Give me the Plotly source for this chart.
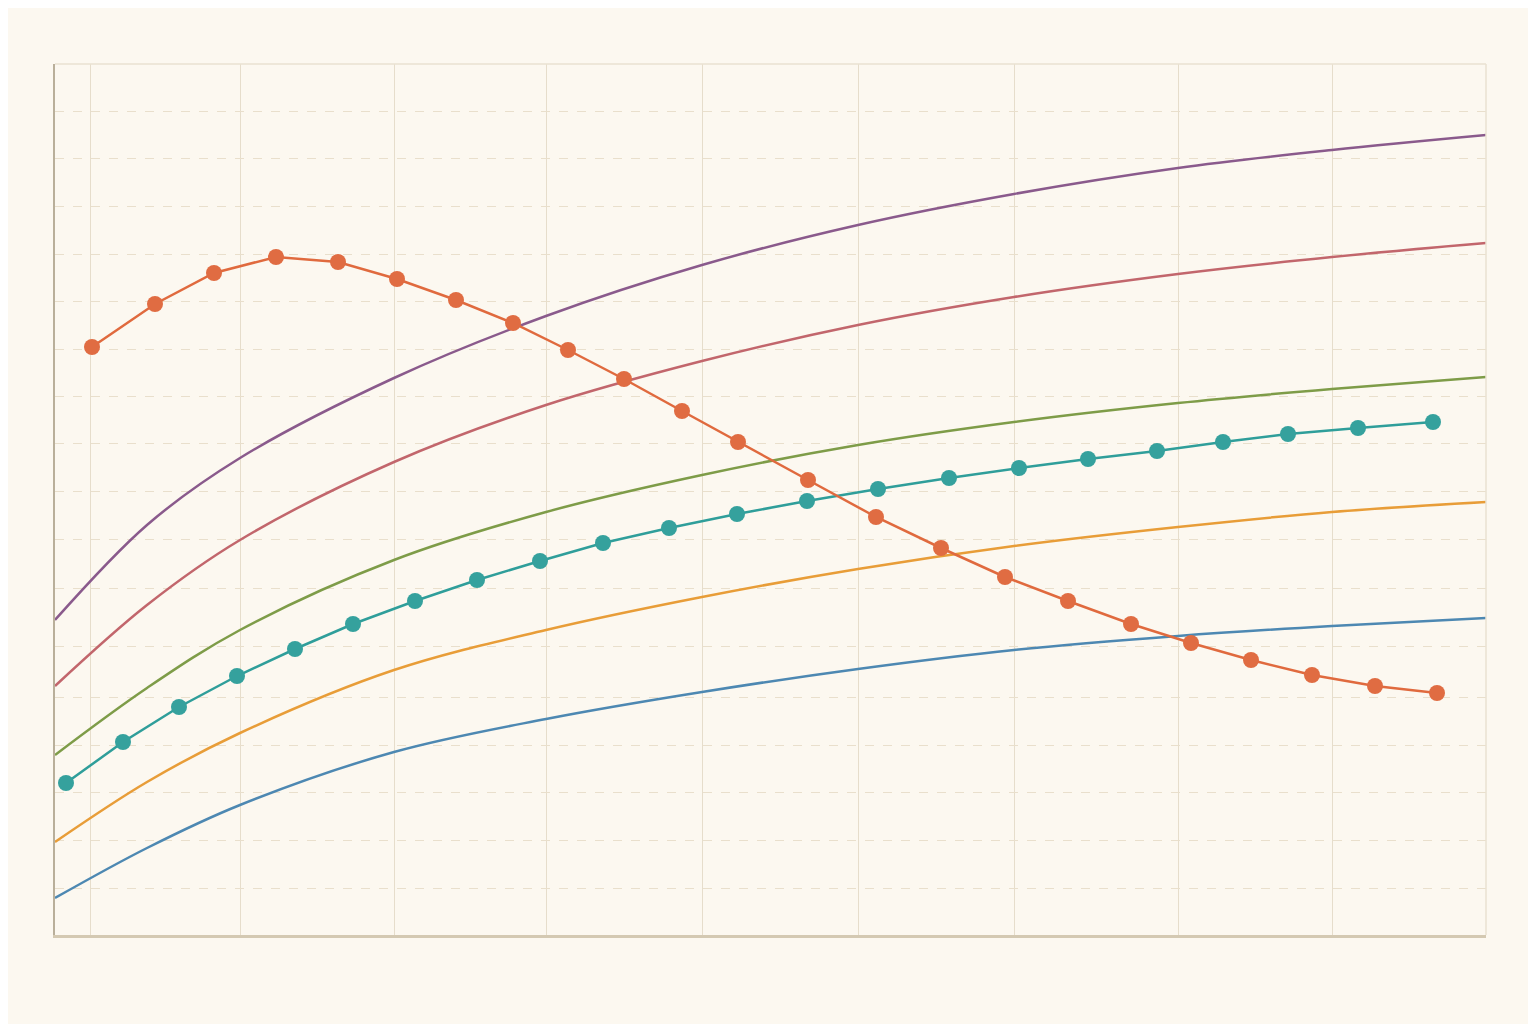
import plotly.graph_objects as go

# pixel-derived units (x: 0..1431, y: 0..871, y up)
curve_x_px = [55, 147, 240, 394, 546, 702, 858, 1014, 1178, 1332, 1486]
purple_px = [620, 525, 458, 378, 316, 265, 225, 194, 168, 150, 135]
pink_px = [686, 605, 540, 462, 405, 361, 325, 297, 274, 257, 243]
green_px = [755, 688, 630, 560, 512, 475, 445, 422, 403, 389, 377]
amber_px = [842, 782, 733, 670, 630, 597, 569, 546, 527, 512, 502]
blue_px = [898, 848, 805, 752, 719, 692, 669, 650, 636, 626, 618]

teal_x_px = [66,123,179,237,295,353,415,477,540,603,669,737,807,878,949,1019,1088,1157,1223,1288,1358,1433]
teal_y_px = [783,742,707,676,649,624,601,580,561,543,528,514,501,489,478,468,459,451,442,434,428,422]
orange_x_px = [92,155,214,276,338,397,456,513,568,624,682,738,808,876,941,1005,1068,1131,1191,1251,1312,1375,1437]
orange_y_px = [347,304,273,257,262,279,300,323,350,379,411,442,480,517,548,577,601,624,643,660,675,686,693]

xgrid_px = [90, 240, 394, 546, 702, 858, 1014, 1178, 1332]
ygrid_px = [111, 158, 206, 254, 301, 349, 396, 443, 491, 539, 588, 646, 697, 745, 792, 840, 888]

X0, YB = 55, 935
fx = lambda v: [p - X0 for p in v]
fy = lambda v: [YB - p for p in v]

fig = go.Figure()
for ys, col in [(purple_px, "#8A5A8C"), (pink_px, "#C2666C"), (green_px, "#7E9C48"),
                (amber_px, "#E89D38"), (blue_px, "#4D88B2")]:
    fig.add_trace(go.Scatter(x=fx(curve_x_px), y=fy(ys), mode="lines",
                             line=dict(color=col, width=2.5, shape="spline", smoothing=1.0)))
fig.add_trace(go.Scatter(x=fx(teal_x_px), y=fy(teal_y_px), mode="lines+markers",
                         line=dict(color="#2F9E9A", width=2.5),
                         marker=dict(size=16, color="#35A19D")))
fig.add_trace(go.Scatter(x=fx(orange_x_px), y=fy(orange_y_px), mode="lines+markers",
                         line=dict(color="#E06A3E", width=2.5),
                         marker=dict(size=16, color="#E06C42")))

fig.update_layout(
    width=1536, height=1024, showlegend=False,
    paper_bgcolor="#FCF8F0", plot_bgcolor="#FCF8F0",
    margin=dict(l=47, r=58, t=56, b=97),
    xaxis=dict(range=[0, 1431], tickvals=fx(xgrid_px), showticklabels=False,
               gridcolor="#E6DDCB", gridwidth=1.2, zeroline=False,
               showline=True, linecolor="#D4C9B2", linewidth=2.5, mirror=False),
    yaxis=dict(range=[0, 871], tickvals=fy(ygrid_px), showticklabels=False,
               gridcolor="#E9DFCC", griddash="dash", gridwidth=1.2, zeroline=False,
               showline=True, linecolor="#B9AF9A", linewidth=1.5, mirror=False),
)
fig.add_shape(type="line", xref="paper", yref="paper", x0=0, x1=1, y0=1, y1=1,
              line=dict(color="#EAE2D2", width=1.5))
fig.add_shape(type="line", xref="paper", yref="paper", x0=1, x1=1, y0=0, y1=1,
              line=dict(color="#EAE2D2", width=1.5))
fig.write_html("out.html")
